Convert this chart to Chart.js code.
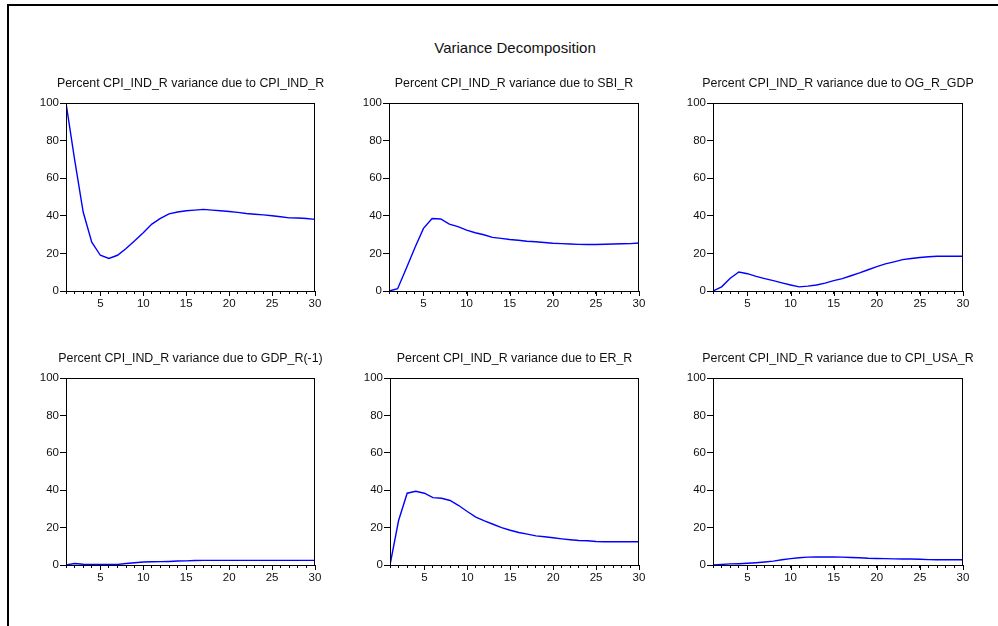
<!DOCTYPE html>
<html>
<head>
<meta charset="utf-8">
<title>Variance Decomposition</title>
<script src="https://cdn.jsdelivr.net/npm/chart.js@4.4.1/dist/chart.umd.min.js"></script>
<style>
  html, body { margin: 0; padding: 0; background: #fff; }
  #page { position: relative; width: 998px; height: 626px; overflow: hidden; font-family: "Liberation Sans", Arial, sans-serif; }
  #frame { position: absolute; left: 7px; top: 4px; width: 1000px; height: 700px; border-top: 2px solid #000; border-left: 2px solid #000; }
  #mainTitle { position: absolute; left: 365px; top: 38px; width: 300px; text-align: center; font-size: 15px; line-height: 20px; color: #111; }
  canvas { position: absolute; }
</style>
</head>
<body>
<div id="page">
  <div id="frame"></div>
  <div id="mainTitle">Variance Decomposition</div>
  <canvas id="c1"></canvas>
  <canvas id="c2"></canvas>
  <canvas id="c3"></canvas>
  <canvas id="c4"></canvas>
  <canvas id="c5"></canvas>
  <canvas id="c6"></canvas>
</div>
<script>
// periods (x axis)
const periods = [1, 2, 3, 4, 5, 6, 7, 8, 9, 10, 11, 12, 13, 14, 15, 16, 17, 18, 19, 20, 21, 22, 23, 24, 25, 26, 27, 28, 29, 30];
const yTicks = [0, 20, 40, 60, 80, 100];

const titleCpiInd = 'Percent CPI_IND_R variance due to CPI_IND_R';
const titleSbi = 'Percent CPI_IND_R variance due to SBI_R';
const titleOg = 'Percent CPI_IND_R variance due to OG_R_GDP';
const titleGdp = 'Percent CPI_IND_R variance due to GDP_R(-1)';
const titleEr = 'Percent CPI_IND_R variance due to ER_R';
const titleCpiUsa = 'Percent CPI_IND_R variance due to CPI_USA_R';

// valores
const cpiInd = [100, 70, 42, 26, 19, 17.3, 19, 22.6, 26.7, 31, 35.6, 38.6, 41, 42, 42.7, 43, 43.4, 43, 42.7, 42.3, 41.8, 41.2, 40.8, 40.5, 40, 39.5, 38.9, 38.8, 38.6, 38.1];
const sbi = [0, 1.2, 12, 23, 33.3, 38.6, 38.3, 35.6, 34.2, 32.4, 31, 29.9, 28.5, 28, 27.4, 27, 26.5, 26.2, 25.8, 25.4, 25.2, 25, 24.8, 24.7, 24.7, 24.9, 25, 25.1, 25.2, 25.5];
const og = [0, 2.2, 6.8, 10.1, 9.2, 7.8, 6.6, 5.5, 4.3, 3.2, 2.2, 2.6, 3.2, 4.2, 5.5, 6.6, 8.1, 9.6, 11.3, 13, 14.4, 15.5, 16.7, 17.3, 17.8, 18.2, 18.5, 18.5, 18.5, 18.5];
const gdp = [0, 0.8, 0.4, 0.3, 0.3, 0.3, 0.3, 0.8, 1.2, 1.6, 1.7, 1.8, 1.9, 2.1, 2.2, 2.4, 2.5, 2.5, 2.5, 2.5, 2.5, 2.5, 2.5, 2.5, 2.5, 2.5, 2.5, 2.5, 2.5, 2.5];
const er = [0, 23.8, 38.4, 39.4, 38.4, 36, 35.7, 34.5, 31.8, 28.6, 25.6, 23.6, 21.8, 20, 18.6, 17.4, 16.5, 15.6, 15.1, 14.6, 14, 13.5, 13.1, 13, 12.6, 12.4, 12.4, 12.4, 12.4, 12.4];
const cpiUsa = [0, 0.3, 0.6, 0.7, 0.9, 1.2, 1.6, 2.1, 2.8, 3.4, 3.9, 4.2, 4.3, 4.3, 4.3, 4.2, 4, 3.9, 3.6, 3.5, 3.4, 3.3, 3.2, 3.2, 3.1, 2.9, 2.8, 2.8, 2.8, 2.8];

const panels = [
  { id: 'c1', title: titleCpiInd, data: cpiInd, left: 66, top: 103, w: 249, h: 188 },
  { id: 'c2', title: titleSbi, data: sbi, left: 389, top: 103, w: 250, h: 188 },
  { id: 'c3', title: titleOg, data: og, left: 713, top: 103, w: 250, h: 188 },
  { id: 'c4', title: titleGdp, data: gdp, left: 66, top: 378, w: 249, h: 187 },
  { id: 'c5', title: titleEr, data: er, left: 390, top: 378, w: 249, h: 187 },
  { id: 'c6', title: titleCpiUsa, data: cpiUsa, left: 713, top: 378, w: 250, h: 187 }
];

const FONT = '"Liberation Sans", Arial, sans-serif';
const padLeft = 40, padRight = 20, padTop = 32, padBottom = 24;

// caixa preta em volta da área do gráfico + marcas maiores em 5, 10, ...
const plotBox = {
  id: 'plotBox',
  afterDraw(chart) {
    const { ctx, chartArea } = chart;
    const xScale = chart.scales.x;
    ctx.save();
    ctx.strokeStyle = '#000';
    ctx.lineWidth = 1;
    ctx.strokeRect(chartArea.left + 0.5, chartArea.top + 0.5, chartArea.width - 1, chartArea.height);
    ctx.beginPath();
    xScale.ticks.forEach((t) => {
      if (t.value % 5 === 0) {
        const px = Math.round(xScale.getPixelForValue(t.value)) + 0.5;
        ctx.moveTo(px, chartArea.bottom);
        ctx.lineTo(px, chartArea.bottom + 5);
      }
    });
    ctx.stroke();
    ctx.restore();
  }
};

// título de cada painel, centrado sobre a área do gráfico
const panelTitle = {
  id: 'panelTitle',
  afterDraw(chart, args, opts) {
    const { ctx, chartArea } = chart;
    ctx.save();
    ctx.font = '12.4px ' + FONT;
    ctx.fillStyle = '#111';
    ctx.textAlign = 'center';
    ctx.textBaseline = 'middle';
    ctx.fillText(opts.text, (chartArea.left + chartArea.right) / 2, chartArea.top - opts.offset);
    ctx.restore();
  }
};

document.addEventListener('DOMContentLoaded', () => {
  panels.forEach((p) => {
    const canvas = document.getElementById(p.id);
    canvas.width = p.w + padLeft + padRight;
    canvas.height = p.h + padTop + padBottom;
    canvas.style.left = (p.left - padLeft) + 'px';
    canvas.style.top = (p.top - padTop) + 'px';

    new Chart(canvas.getContext('2d'), {
      type: 'line',
      data: {
        labels: periods,
        datasets: [{
          data: p.data,
          borderColor: '#0000ff',
          borderWidth: 1.4,
          pointRadius: 0,
          tension: 0,
          fill: false
        }]
      },
      options: {
        responsive: false,
        animation: false,
        layout: { padding: { left: 0, right: padRight, top: padTop, bottom: 0 } },
        plugins: {
          legend: { display: false },
          tooltip: { enabled: false },
          title: { display: false },
          panelTitle: { text: p.title, offset: 19 }
        },
        scales: {
          x: {
            type: 'linear',
            min: 1,
            max: 30,
            afterFit: (scale) => { scale.height = padBottom; },
            border: { display: false },
            grid: { drawOnChartArea: false, drawTicks: true, tickLength: 3, color: '#000' },
            ticks: {
              stepSize: 1,
              autoSkip: false,
              maxRotation: 0,
              padding: 3,
              color: '#111',
              font: { family: FONT, size: 11.5 },
              callback: (v) => (v % 5 === 0 ? v : '')
            }
          },
          y: {
            min: 0,
            max: 100,
            afterFit: (scale) => { scale.width = padLeft; },
            afterBuildTicks: (scale) => { scale.ticks = yTicks.map((v) => ({ value: v })); },
            border: { display: false },
            grid: { drawOnChartArea: false, drawTicks: true, tickLength: 6, color: '#000' },
            ticks: {
              padding: 1,
              color: '#111',
              font: { family: FONT, size: 11.5 }
            }
          }
        }
      },
      plugins: [plotBox, panelTitle]
    });
  });
});
</script>
</body>
</html>
